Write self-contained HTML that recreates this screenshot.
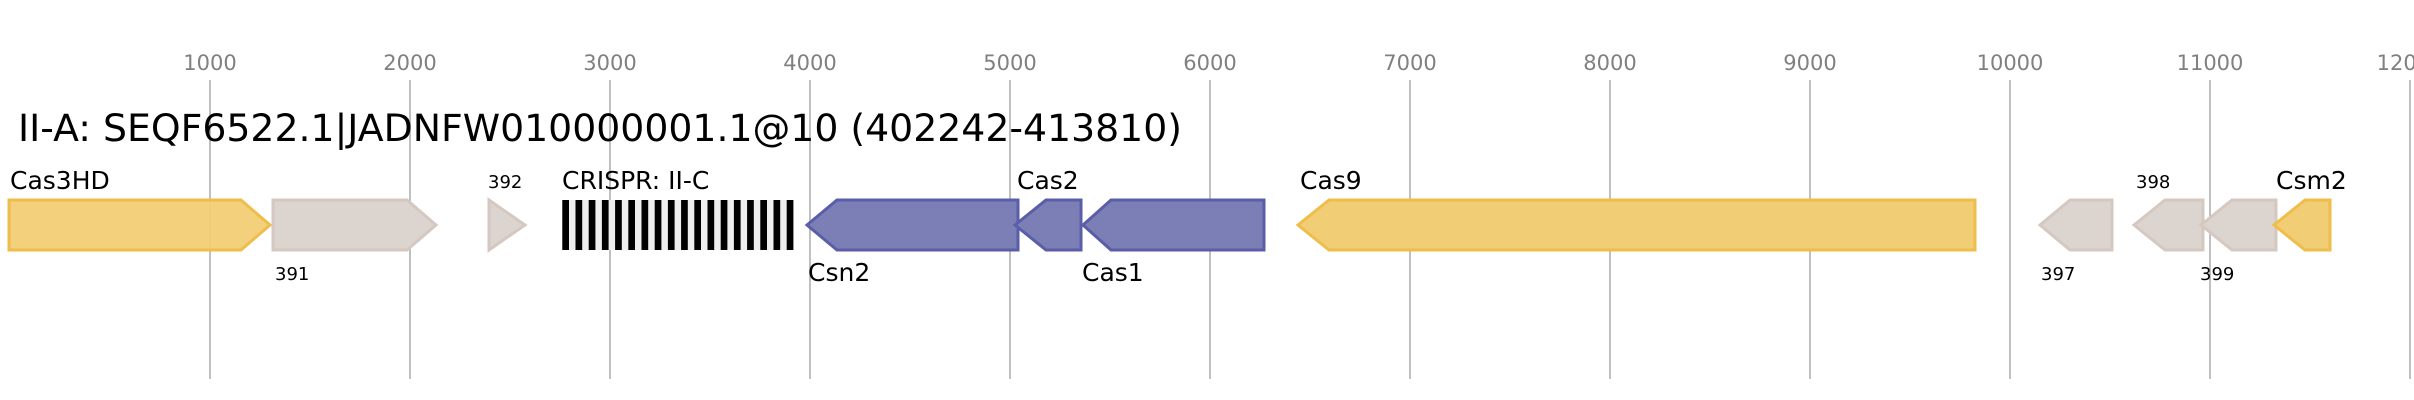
<!DOCTYPE html>
<html><head><meta charset="utf-8"><style>
html,body{margin:0;padding:0;background:#fff;}
svg{display:block;}
</style></head><body>
<svg width="2414" height="400" viewBox="0 0 2414 400" xmlns="http://www.w3.org/2000/svg" font-family="'DejaVu Sans','Liberation Sans',sans-serif">
<rect width="2414" height="400" fill="#fff"/>
<g stroke="#c0c0c0" stroke-width="2">
<line x1="210" y1="80" x2="210" y2="379"/><line x1="410" y1="80" x2="410" y2="379"/>
<line x1="610" y1="80" x2="610" y2="379"/><line x1="810" y1="80" x2="810" y2="379"/>
<line x1="1010" y1="80" x2="1010" y2="379"/><line x1="1210" y1="80" x2="1210" y2="379"/>
<line x1="1410" y1="80" x2="1410" y2="379"/><line x1="1610" y1="80" x2="1610" y2="379"/>
<line x1="1810" y1="80" x2="1810" y2="379"/><line x1="2010" y1="80" x2="2010" y2="379"/>
<line x1="2210" y1="80" x2="2210" y2="379"/><line x1="2410" y1="80" x2="2410" y2="379"/>
</g>
<g fill="#808080" font-size="21" text-anchor="middle">
<text x="210" y="70">1000</text><text x="410" y="70">2000</text><text x="610" y="70">3000</text>
<text x="810" y="70">4000</text><text x="1010" y="70">5000</text><text x="1210" y="70">6000</text>
<text x="1410" y="70">7000</text><text x="1610" y="70">8000</text><text x="1810" y="70">9000</text>
<text x="2010" y="70">10000</text><text x="2210" y="70">11000</text><text x="2410" y="70">12000</text>
</g>
<text x="18" y="141" font-size="37" fill="#000" textLength="1164" lengthAdjust="spacingAndGlyphs">II-A: SEQF6522.1|JADNFW010000001.1@10 (402242-413810)</text>
<g stroke-width="3" stroke-linejoin="miter">
<polygon points="9,200 241,200 270,225 241,250 9,250" fill="#f1cd75" fill-opacity="0.95" stroke="#efbd4a"/>
<polygon points="273,200 407,200 436,225 407,250 273,250" fill="#dcd4cf" stroke="#d5c8c0"/>
<polygon points="489,200 525,225 489,250" fill="#dcd4cf" stroke="#d5c8c0"/>
<polygon points="807,225 837,200 1018,200 1018,250 837,250" fill="#7b7fb5" stroke="#5a5ea8"/>
<polygon points="1015,225 1046,200 1081,200 1081,250 1046,250" fill="#7b7fb5" stroke="#5a5ea8"/>
<polygon points="1083,225 1111,200 1264,200 1264,250 1111,250" fill="#7b7fb5" stroke="#5a5ea8"/>
<polygon points="1298,225 1329,200 1975,200 1975,250 1329,250" fill="#f1cd75" stroke="#efbd4a"/>
<polygon points="2040,225 2070,200 2112,200 2112,250 2070,250" fill="#dcd4cf" stroke="#d5c8c0"/>
<polygon points="2134,225 2165,200 2203,200 2203,250 2165,250" fill="#dcd4cf" stroke="#d5c8c0"/>
<polygon points="2201,225 2232,200 2276,200 2276,250 2232,250" fill="#dcd4cf" stroke="#d5c8c0"/>
<polygon points="2274,225 2305,200 2330,200 2330,250 2305,250" fill="#f1cd75" stroke="#efbd4a"/>
</g>
<rect x="562" y="200" width="231" height="50" fill="#eeeeee"/>
<g fill="#000">
<rect x="562.3" y="200" width="6.7" height="50"/><rect x="575.5" y="200" width="6.7" height="50"/>
<rect x="588.7" y="200" width="6.7" height="50"/><rect x="601.9" y="200" width="6.7" height="50"/>
<rect x="615.1" y="200" width="6.7" height="50"/><rect x="628.3" y="200" width="6.7" height="50"/>
<rect x="641.5" y="200" width="6.7" height="50"/><rect x="654.7" y="200" width="6.7" height="50"/>
<rect x="667.9" y="200" width="6.7" height="50"/><rect x="681.1" y="200" width="6.7" height="50"/>
<rect x="694.3" y="200" width="6.7" height="50"/><rect x="707.5" y="200" width="6.7" height="50"/>
<rect x="720.7" y="200" width="6.7" height="50"/><rect x="733.9" y="200" width="6.7" height="50"/>
<rect x="747.1" y="200" width="6.7" height="50"/><rect x="760.3" y="200" width="6.7" height="50"/>
<rect x="773.5" y="200" width="6.7" height="50"/><rect x="786.7" y="200" width="6.7" height="50"/>
</g>
<g fill="#000" font-size="25">
<text x="10" y="189">Cas3HD</text>
<text x="562" y="189">CRISPR: II-C</text>
<text x="808" y="281">Csn2</text>
<text x="1017" y="189">Cas2</text>
<text x="1082" y="281">Cas1</text>
<text x="1300" y="189">Cas9</text>
<text x="2276" y="189">Csm2</text>
</g>
<g fill="#000" font-size="18">
<text x="275" y="280">391</text>
<text x="488" y="188">392</text>
<text x="2041" y="280">397</text>
<text x="2136" y="188">398</text>
<text x="2200" y="280">399</text>
</g>
</svg>
</body></html>
